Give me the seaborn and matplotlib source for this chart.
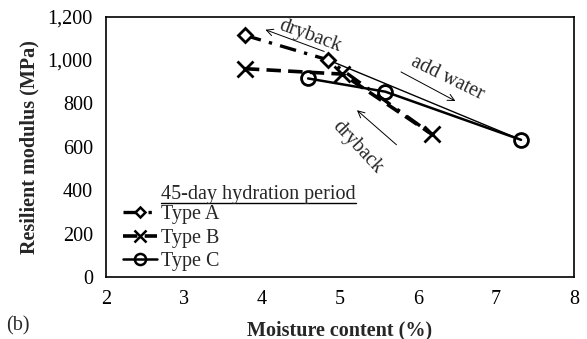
import matplotlib
matplotlib.use("Agg")
import matplotlib.pyplot as plt
import seaborn as sns
from matplotlib.lines import Line2D
from matplotlib.ticker import MultipleLocator, FixedLocator, FuncFormatter

# ---- data ----
series_names = ["Type A", "Type B", "Type C"]
typeA_x = [3.78, 4.85, 6.18]
typeA_y = [1114, 1000, 657]
typeB_x = [3.78, 5.03, 6.18]
typeB_y = [960, 935, 657]
typeC_x = [4.59, 5.58, 7.32]
typeC_y = [915, 854, 632]
x_ticks = [2, 3, 4, 5, 6, 7, 8]
y_ticks = [0, 200, 400, 600, 800, 1000, 1200]
legend_title = "45-day hydration period"
x_label = "Moisture content (%)"
y_label = "Resilient modulus (MPa)"
panel_label = "(b)"

sns.set_style("white")
plt.rcParams["font.family"] = ["Liberation Serif", "DejaVu Serif"]

fig = plt.figure(figsize=(5.87, 3.39), dpi=100)
ax = fig.add_axes([0.1806, 0.183, 0.7974, 0.768])

FS = 14.5

styleA = dict(color="black", linestyle=(0, (5, 2.5, 1, 2.5)), linewidth=2.4,
              marker="D", markersize=7, markerfacecolor="white",
              markeredgecolor="black", markeredgewidth=2)
styleB = dict(color="black", linestyle=(0, (4, 2)), linewidth=2.6,
              marker="x", markersize=11, markeredgecolor="black",
              markeredgewidth=2)
styleC = dict(color="black", linestyle="-", linewidth=1.8,
              marker="o", markersize=10, markerfacecolor="none",
              markeredgecolor="black", markeredgewidth=2)

# thin connector from Type A second point to Type C end point
sns.lineplot(x=[typeA_x[1], typeC_x[2]], y=[typeA_y[1], typeC_y[2]], ax=ax,
             color="black", linewidth=1.0, sort=False, estimator=None,
             legend=False)
sns.lineplot(x=typeC_x, y=typeC_y, ax=ax, sort=False, estimator=None,
             legend=False, **styleC)
sns.lineplot(x=typeB_x, y=typeB_y, ax=ax, sort=False, estimator=None,
             legend=False, **styleB)
sns.lineplot(x=typeA_x, y=typeA_y, ax=ax, sort=False, estimator=None,
             legend=False, markevery=[0, 1], **styleA)

ax.set_xlim(x_ticks[0], x_ticks[-1])
ax.set_ylim(y_ticks[0], y_ticks[-1])
ax.xaxis.set_major_locator(FixedLocator(x_ticks))
ax.yaxis.set_major_locator(FixedLocator(y_ticks))
ax.yaxis.set_minor_locator(MultipleLocator(100))
ax.yaxis.set_major_formatter(FuncFormatter(lambda v, p: f"{int(v):,}"))
ax.tick_params(axis="both", which="both", direction="out", color="black",
               labelsize=FS, labelcolor="black")
ax.tick_params(axis="both", which="major", length=6, width=1)
ax.tick_params(axis="y", which="minor", length=4, width=1)
for s in ax.spines.values():
    s.set_color("black")
    s.set_linewidth(1.2)

ax.set_xlabel(x_label, fontsize=FS, fontweight="bold", labelpad=8)
ax.set_ylabel(y_label, fontsize=FS, fontweight="bold", labelpad=6)
fig.text(0.01, 0.04, panel_label, fontsize=FS, ha="left", va="center")

# annotations
arrow_kw = dict(arrowstyle="->", color="black", lw=0.7, mutation_scale=12)
ax.annotate("", xy=(4.01, 1144), xytext=(4.83, 1035), arrowprops=arrow_kw)
ax.text(4.62, 1110, "dryback", rotation=-20, fontsize=FS, ha="center",
        va="center", rotation_mode="anchor")
ax.annotate("", xy=(6.51, 805), xytext=(5.75, 951), arrowprops=arrow_kw)
ax.text(6.38, 915, "add water", rotation=-26, fontsize=FS, ha="center",
        va="center", rotation_mode="anchor")
ax.annotate("", xy=(5.19, 777), xytext=(5.75, 601), arrowprops=arrow_kw)
ax.text(5.22, 600, "dryback", rotation=-47, fontsize=FS, ha="center",
        va="center", rotation_mode="anchor")

# legend (smaller markers in the key)
legA = dict(styleA, markersize=5.5, markeredgewidth=1.8)
legB = dict(styleB, markersize=8, markeredgewidth=1.8)
legC = dict(styleC, markersize=8, markeredgewidth=1.8)
handles = [Line2D([], [], **legA), Line2D([], [], **legB),
           Line2D([], [], **legC)]
leg = ax.legend(handles, series_names, loc="upper left",
                bbox_to_anchor=(0.037, 0.275), frameon=False, fontsize=FS,
                handlelength=1.65, handletextpad=0.2, labelspacing=0.2,
                borderpad=0, borderaxespad=0)

t = ax.text(0.118, 0.315, legend_title, transform=ax.transAxes, fontsize=FS,
            ha="left", va="center")
fig.canvas.draw()
bb = t.get_window_extent().transformed(ax.transAxes.inverted())
ax.plot([bb.x0, bb.x1], [bb.y0 + 0.006, bb.y0 + 0.006], transform=ax.transAxes,
        color="black", linewidth=1.0, clip_on=False)

fig.savefig("out.png", dpi=100)
